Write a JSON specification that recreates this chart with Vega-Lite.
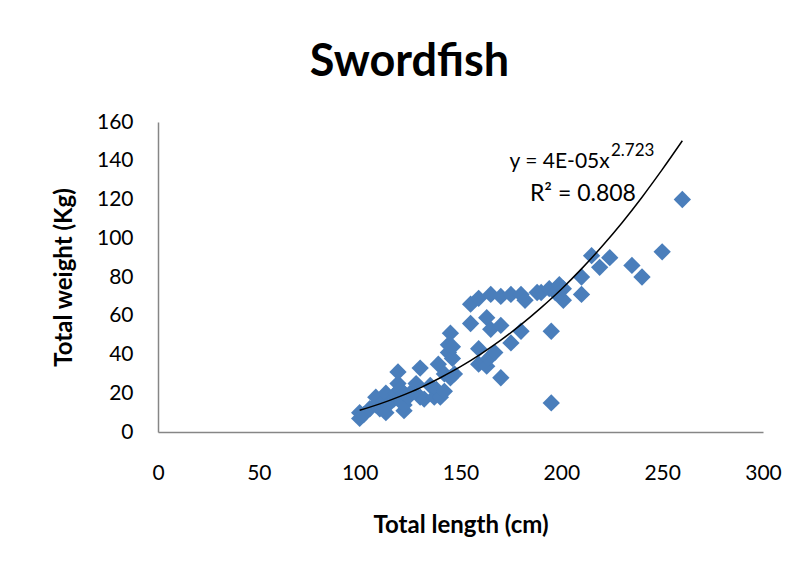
{
  "$schema": "https://vega.github.io/schema/vega-lite/v6.json",
  "width": 605,
  "height": 310,
  "autosize": "none",
  "padding": {"left": 158, "top": 122, "right": 41, "bottom": 137},
  "background": "white",
  "config": {
    "view": {"stroke": null},
    "font": "Lato",
    "axis": {"labelOverlap": false}
  },
  "title": {
    "text": "Swordfish",
    "font": "Lato",
    "fontSize": 45,
    "fontWeight": "bold",
    "color": "black",
    "anchor": "middle",
    "dx": -51,
    "offset": 26
  },
  "datasets": {
    "fish": [
      {"length": 100, "weight": 10}, {"length": 100, "weight": 7}, {"length": 102, "weight": 9},
      {"length": 105, "weight": 12}, {"length": 108, "weight": 14}, {"length": 108, "weight": 18},
      {"length": 110, "weight": 12}, {"length": 112, "weight": 16}, {"length": 113, "weight": 20},
      {"length": 113, "weight": 10}, {"length": 115, "weight": 15}, {"length": 117, "weight": 17},
      {"length": 118, "weight": 20}, {"length": 119, "weight": 25}, {"length": 119, "weight": 31},
      {"length": 120, "weight": 22}, {"length": 122, "weight": 11}, {"length": 122, "weight": 14},
      {"length": 122, "weight": 20}, {"length": 124, "weight": 18}, {"length": 126, "weight": 21},
      {"length": 128, "weight": 25}, {"length": 130, "weight": 33}, {"length": 130, "weight": 18},
      {"length": 132, "weight": 17}, {"length": 135, "weight": 24}, {"length": 137, "weight": 18},
      {"length": 138, "weight": 22}, {"length": 139, "weight": 35}, {"length": 140, "weight": 18},
      {"length": 142, "weight": 30}, {"length": 142, "weight": 21}, {"length": 144, "weight": 41},
      {"length": 144, "weight": 45}, {"length": 145, "weight": 51}, {"length": 145, "weight": 28},
      {"length": 146, "weight": 38}, {"length": 147, "weight": 30}, {"length": 146, "weight": 44},
      {"length": 155, "weight": 56}, {"length": 155, "weight": 66}, {"length": 159, "weight": 69},
      {"length": 159, "weight": 43}, {"length": 159, "weight": 35}, {"length": 163, "weight": 34},
      {"length": 164, "weight": 38}, {"length": 165, "weight": 71}, {"length": 163, "weight": 59},
      {"length": 165, "weight": 53}, {"length": 167, "weight": 41}, {"length": 170, "weight": 55},
      {"length": 170, "weight": 70}, {"length": 170, "weight": 28}, {"length": 175, "weight": 71},
      {"length": 175, "weight": 46}, {"length": 180, "weight": 52}, {"length": 180, "weight": 71},
      {"length": 182, "weight": 68}, {"length": 188, "weight": 72}, {"length": 190, "weight": 72},
      {"length": 194, "weight": 74}, {"length": 195, "weight": 52}, {"length": 195, "weight": 15},
      {"length": 197, "weight": 72}, {"length": 199, "weight": 76}, {"length": 201, "weight": 68},
      {"length": 201, "weight": 74}, {"length": 210, "weight": 80}, {"length": 210, "weight": 71},
      {"length": 215, "weight": 91}, {"length": 219, "weight": 85}, {"length": 224, "weight": 90},
      {"length": 235, "weight": 86}, {"length": 240, "weight": 80}, {"length": 250, "weight": 93},
      {"length": 260, "weight": 120}
    ],
    "trend": [
      {"length": 100, "weight": 11.2}, {"length": 110, "weight": 14.5}, {"length": 120, "weight": 18.4},
      {"length": 130, "weight": 22.8}, {"length": 140, "weight": 28.0}, {"length": 150, "weight": 33.7},
      {"length": 160, "weight": 40.2}, {"length": 170, "weight": 47.4}, {"length": 180, "weight": 55.4},
      {"length": 190, "weight": 64.2}, {"length": 200, "weight": 73.7}, {"length": 210, "weight": 84.2},
      {"length": 220, "weight": 95.6}, {"length": 230, "weight": 107.9}, {"length": 240, "weight": 121.2},
      {"length": 250, "weight": 135.4}, {"length": 260, "weight": 150.3}
    ],
    "eqMain": [
      {"length": 224, "weight": 139.5, "label": "y = 4E-05x"}
    ],
    "eqR2": [
      {"length": 237, "weight": 123, "label": "R² = 0.808"}
    ],
    "eqSup": [
      {"length": 224.6, "weight": 145, "label": "2.723"}
    ]
  },
  "encoding": {
    "x": {
      "field": "length", "type": "quantitative",
      "scale": {"domain": [0, 300], "nice": false, "zero": false},
      "axis": {
        "title": "Total length (cm)",
        "values": [0, 50, 100, 150, 200, 250, 300],
        "grid": false, "ticks": false,
        "domainColor": "#868686", "domainWidth": 1.5,
        "labelFont": "Lato", "labelFontSize": 21, "labelColor": "black",
        "labelPadding": 30, "labelFlush": false, "labelOverlap": false,
        "titleFont": "Lato", "titleFontSize": 24, "titleFontWeight": "bold", "titleColor": "black",
        "titlePadding": 30
      }
    },
    "y": {
      "field": "weight", "type": "quantitative",
      "scale": {"domain": [0, 160], "nice": false},
      "axis": {
        "title": "Total weight (Kg)",
        "values": [0, 20, 40, 60, 80, 100, 120, 140, 160],
        "grid": false, "ticks": false,
        "domainColor": "#868686", "domainWidth": 1.5,
        "labelFont": "Lato", "labelFontSize": 21, "labelColor": "black",
        "labelPadding": 25, "labelFlush": false, "labelOverlap": false,
        "titleFont": "Lato", "titleFontSize": 24, "titleFontWeight": "bold", "titleColor": "black",
        "titlePadding": 20
      }
    }
  },
  "layer": [
    {
      "data": {"name": "fish"},
      "mark": {"type": "point", "shape": "diamond", "filled": true, "size": 300, "opacity": 1, "color": "#4A7EBB"}
    },
    {
      "data": {"name": "trend"},
      "mark": {"type": "line", "color": "black", "strokeWidth": 1.5, "interpolate": "monotone"}
    },
    {
      "data": {"name": "eqMain"},
      "mark": {"type": "text", "align": "right", "baseline": "middle", "font": "Lato", "fontSize": 21, "color": "black"},
      "encoding": {"text": {"field": "label"}}
    },
    {
      "data": {"name": "eqR2"},
      "mark": {"type": "text", "align": "right", "baseline": "middle", "font": "Lato", "fontSize": 23, "color": "black"},
      "encoding": {"text": {"field": "label"}}
    },
    {
      "data": {"name": "eqSup"},
      "mark": {"type": "text", "align": "left", "baseline": "middle", "font": "Lato", "fontSize": 17, "color": "black"},
      "encoding": {"text": {"field": "label"}}
    }
  ]
}
